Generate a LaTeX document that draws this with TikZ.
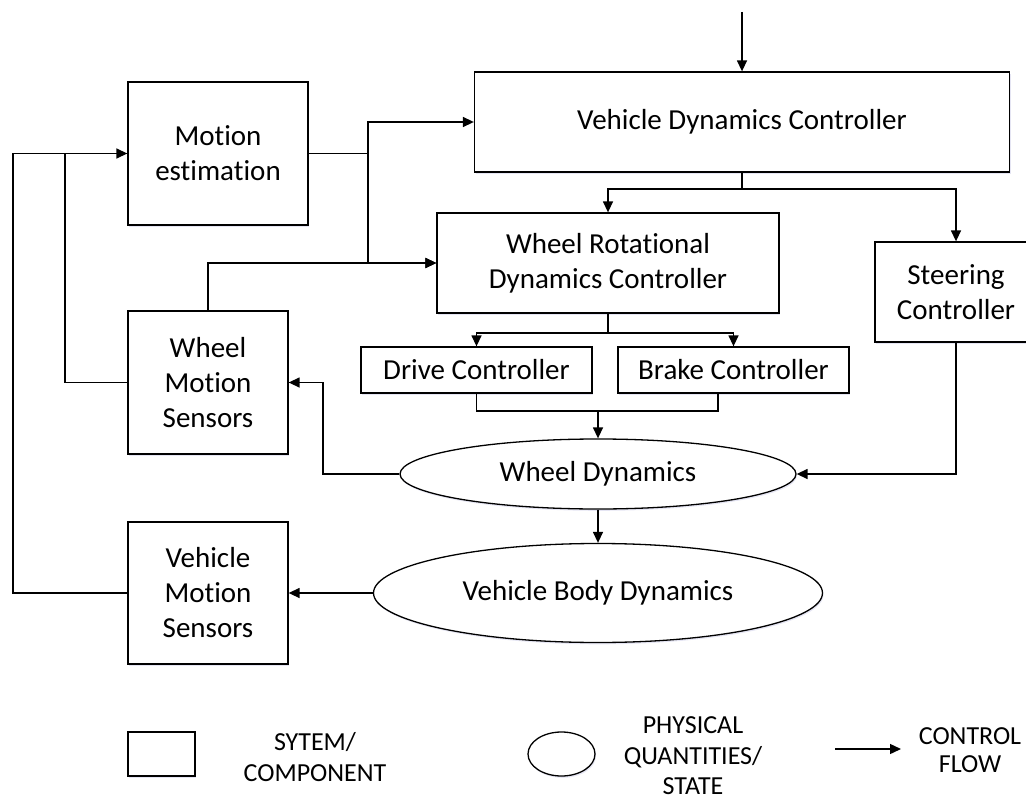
\documentclass[tikz,border=0pt]{standalone}
\usepackage{fontspec}
\setmainfont{Carlito}[Ligatures=NoCommon]
\usetikzlibrary{arrows.meta,shapes.geometric,shadows}

\tikzset{
  line/.style={line width=1.4pt, draw=black},
  arr/.style={line, -{Triangle[length=11pt,width=10pt]}},
  haze/.style={drop shadow={shadow xshift=1pt, shadow yshift=-1.8pt, fill=blue!35!gray, opacity=0.15}},
  blockbox/.style={rectangle, draw=black, line width=1.3pt, fill=white, haze, inner sep=0pt,
    align=center, font=\fontsize{29}{35}\selectfont},
  statebox/.style={ellipse, draw=black, line width=1.3pt, fill=white, haze, inner sep=0pt,
    align=center, font=\fontsize{29}{35}\selectfont},
  keytext/.style={align=center, font=\fontsize{26}{31}\selectfont},
}

\begin{document}
\begin{tikzpicture}[x=1pt, y=-1pt]
\useasboundingbox (0,0) rectangle (1026,800);
\clip (0,0) rectangle (1026,800);

% system blocks
\node[blockbox, minimum width=180pt, minimum height=143pt] (me)    at (218,153.5) {Motion\\estimation};
\node[blockbox, minimum width=535pt, minimum height=100pt] (vdc)   at (742,122)   {Vehicle Dynamics Controller};
\node[blockbox, minimum width=342pt, minimum height=100pt] (wrdc)  at (608,263)   {Wheel Rotational\\Dynamics Controller};
\node[blockbox, minimum width=162pt, minimum height=100pt] (steer) at (956,292)   {Steering\\Controller};
\node[blockbox, minimum width=231pt, minimum height=46pt]  (drive) at (476.5,370) {Drive Controller};
\node[blockbox, minimum width=231pt, minimum height=46pt]  (brake) at (733.5,370) {Brake Controller};
\node[blockbox, minimum width=160pt, minimum height=143pt] (wms)   at (208,382.5) {Wheel\\Motion\\Sensors};
\node[blockbox, minimum width=160pt, minimum height=142pt] (vms)   at (208,593)   {Vehicle\\Motion\\Sensors};

% physical states
\node[statebox, minimum width=396pt, minimum height=70pt] (wd)  at (598,474) {Wheel Dynamics};
\node[statebox, minimum width=449pt, minimum height=99pt] (vbd) at (598,593) {Vehicle Body Dynamics};

% junction points
\coordinate (cmd) at (742,12);
\coordinate (ja)  at (368,153.5);
\coordinate (jc)  at (742,189);
\coordinate (jd)  at (608,333);
\coordinate (je)  at (598,411);
\coordinate (bo)  at (718,393);
\coordinate (kf)  at (323,474);
\coordinate (jg)  at (65,153.5);
\coordinate (lv)  at (13,593);

% control flow
\draw[arr] (cmd) -- (vdc.north);
\draw[line] (me.east) -- (ja);
\draw[arr] (ja) |- (vdc.west);
\draw[arr] (ja) |- (wrdc.west);
\draw[arr] (wms.north) |- (wrdc.west);
\draw[line] (vdc.south) -- (jc);
\draw[arr] (jc) -| (wrdc.north);
\draw[arr] (jc) -| (steer.north);
\draw[line] (wrdc.south) -- (jd);
\draw[arr] (jd) -| (drive.north);
\draw[arr] (jd) -| (brake.north);
\draw[line] (drive.south) |- (bo |- je) -- (bo);
\draw[arr] (je) -- (wd.north);
\draw[arr] (wd.west) -- (kf) |- (wms.east);
\draw[arr] (steer.south) |- (wd.east);
\draw[arr] (wd.south) -- (vbd.north);
\draw[arr] (vbd.west) -- (vms.east);
\draw[arr] (vms.west) -- (lv) |- (me.west);
\draw[line] (wms.west) -| (jg);

% key
\node[blockbox, minimum width=67pt, minimum height=44pt] (krect) at (161.5,754) {};
\node[keytext] (ktxt1) at (315,757) {SYTEM/\\COMPONENT};
\node[statebox, minimum width=67pt, minimum height=44pt] (kell) at (561.5,754) {};
\node[keytext, font=\fontsize{26}{30.5}\selectfont] (ktxt2) at (693,756) {PHYSICAL\\QUANTITIES/\\STATE};
\coordinate (ka) at (835,749);
\coordinate (kb) at (901,749);
\draw[arr] (ka) -- (kb);
\node[keytext, font=\fontsize{26}{28}\selectfont] (ktxt3) at (970,750) {CONTROL\\FLOW};
\end{tikzpicture}
\end{document}
